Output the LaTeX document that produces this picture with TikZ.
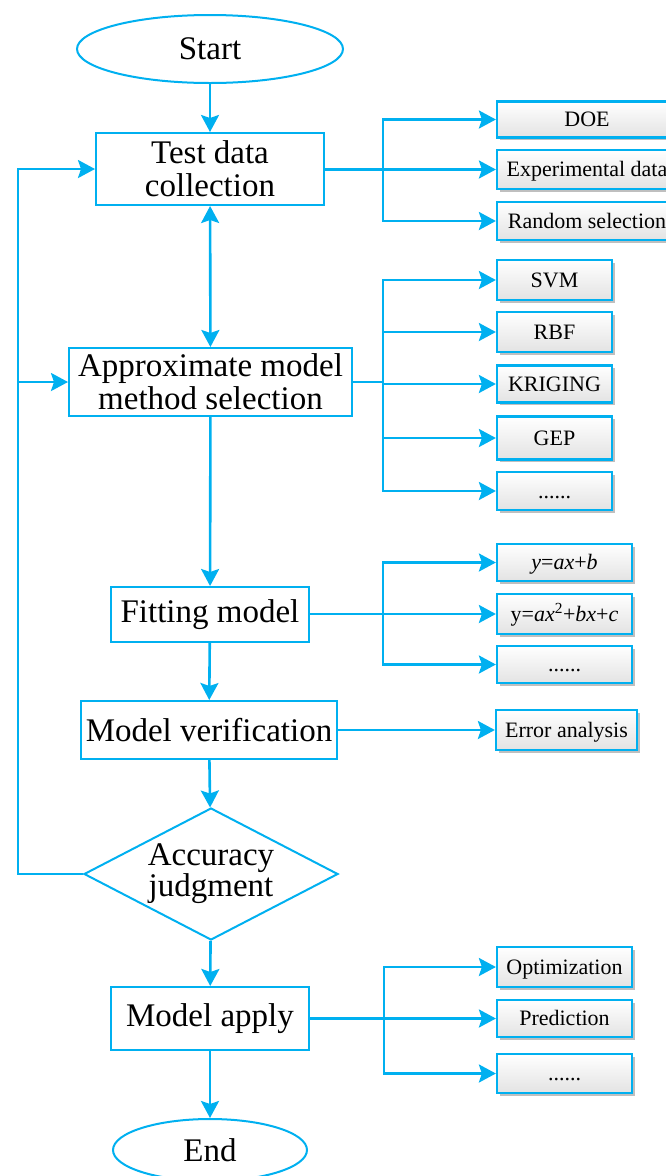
\documentclass[tikz,border=0pt]{standalone}
\usepackage{fontspec}
\setmainfont{Liberation Serif}
\usetikzlibrary{shapes.geometric,arrows.meta,shadows}
\definecolor{cb}{RGB}{0,176,240}
\begin{document}
\begin{tikzpicture}[x=1pt,y=-1pt,
  mainbox/.style={draw=cb,line width=2pt,fill=white,inner sep=0pt,align=center,font=\fontsize{33}{33}\selectfont},
  term/.style={ellipse,draw=cb,line width=2pt,fill=white,inner sep=0pt,font=\fontsize{33}{33}\selectfont},
  smallbox/.style={draw=cb,line width=2.2pt,top color=white,bottom color=black!11,inner sep=0pt,
    font=\fontsize{22}{24}\selectfont,text height=19.6pt,text depth=5pt,
    drop shadow={shadow xshift=2.5pt,shadow yshift=-2.5pt,opacity=0.25,fill=black}},
  arr/.style={draw=cb,line width=2.6pt,-{Stealth[length=17pt,width=18pt,inset=3pt]}},
  ln/.style={draw=cb,line width=2.6pt},
]
\useasboundingbox (0,0) rectangle (665,1176);

% main column
\node[term,minimum width=266pt,minimum height=68pt] (start) at (210,49) {Start};
\node[mainbox,minimum width=228pt,minimum height=72pt] (test) at (210,169) {Test data\\collection};
\node[mainbox,minimum width=283pt,minimum height=68pt] (approx) at (210.5,382) {Approximate model\\method selection};
\node[mainbox,minimum width=198pt,minimum height=55pt] (fit) at (210,614.5) {Fitting model};
\node[mainbox,minimum width=256pt,minimum height=58pt] (ver) at (209,730) {Model verification};
\node[diamond,draw=cb,line width=2pt,fill=white,inner sep=0pt,aspect=1.92,minimum width=254pt,minimum height=132pt] (acc) at (211,874) {};
\node[align=center,font=\fontsize{33}{30}\selectfont] (acct) at (211,874) {Accuracy\\judgment};
\node[mainbox,minimum width=198pt,minimum height=63pt] (apply) at (210,1018.5) {Model apply};
\node[term,minimum width=194pt,minimum height=62pt] (end) at (210,1150) {End};

\draw[arr] (start) -- (test);
\draw[arr,{Stealth[length=17pt,width=18pt,inset=3pt]}-{Stealth[length=17pt,width=18pt,inset=3pt]}] (test) -- (approx);
\draw[arr] (approx) -- (fit);
\draw[arr] (fit) -- (ver);
\draw[arr] (ver) -- (acc);
\draw[arr] (acc) -- (apply);
\draw[arr] (apply) -- (end);

% feedback loop
\coordinate (lb) at (18,874);
\coordinate (la) at (18,382);
\draw[arr] (acc.west) -- (lb) |- (test.west);
\draw[arr] (la) -- (approx.west);

% branch 1
\node[smallbox,minimum width=180pt,minimum height=36pt] (doe) at (587,119.5) {DOE};
\node[smallbox,minimum width=180pt,minimum height=39pt] (exp) at (587,169.5) {Experimental data};
\node[smallbox,minimum width=180pt,minimum height=38pt] (rand) at (587,221) {Random selection};
\coordinate (j1) at (383,169.5);
\draw[arr] (test.east |- j1) -- (exp.west);
\draw[arr] (j1) |- (doe.west);
\draw[arr] (j1) |- (rand.west);

% branch 2
\node[smallbox,minimum width=115pt,minimum height=40pt] (svm) at (554.5,280) {SVM};
\node[smallbox,minimum width=115pt,minimum height=40pt] (rbf) at (554.5,332) {RBF};
\node[smallbox,minimum width=115pt,minimum height=37pt] (krig) at (554.5,384) {KRIGING};
\node[smallbox,minimum width=115pt,minimum height=43pt] (gep) at (554.5,438) {GEP};
\node[smallbox,minimum width=115pt,minimum height=38pt] (dots1) at (554.5,491) {......};
\coordinate (j2) at (383,382);
\draw[ln] (approx.east) -- (j2);
\draw[arr] (j2) |- (svm.west);
\draw[arr] (j2) |- (rbf.west);
\draw[arr] (j2) |- (krig.west);
\draw[arr] (j2) |- (gep.west);
\draw[arr] (j2) |- (dots1.west);

% branch 3
\node[smallbox,minimum width=135pt,minimum height=37pt] (lin) at (564.5,562.5) {\textit{y}=\textit{ax}+\textit{b}};
\node[smallbox,minimum width=135pt,minimum height=40pt] (quad) at (564.5,614) {y=\textit{ax}\textsuperscript{2}+\textit{bx}+\textit{c}};
\node[smallbox,minimum width=135pt,minimum height=37pt] (dots2) at (564.5,664.5) {......};
\coordinate (j3) at (383,614);
\draw[arr] (fit.east |- j3) -- (quad.west);
\draw[arr] (j3) |- (lin.west);
\draw[arr] (j3) |- (dots2.west);

% branch 4
\node[smallbox,minimum width=141pt,minimum height=40pt] (err) at (566.5,730) {Error analysis};
\draw[arr] (ver.east) -- (err.west);

% branch 5
\node[smallbox,minimum width=135pt,minimum height=40pt] (opt) at (564.5,967) {Optimization};
\node[smallbox,minimum width=135pt,minimum height=37pt] (pred) at (564.5,1018.5) {Prediction};
\node[smallbox,minimum width=135pt,minimum height=39pt] (dots3) at (564.5,1073.5) {......};
\coordinate (j5) at (384,1018.5);
\draw[arr] (apply.east |- j5) -- (pred.west);
\draw[arr] (j5) |- (opt.west);
\draw[arr] (j5) |- (dots3.west);
\end{tikzpicture}
\end{document}
